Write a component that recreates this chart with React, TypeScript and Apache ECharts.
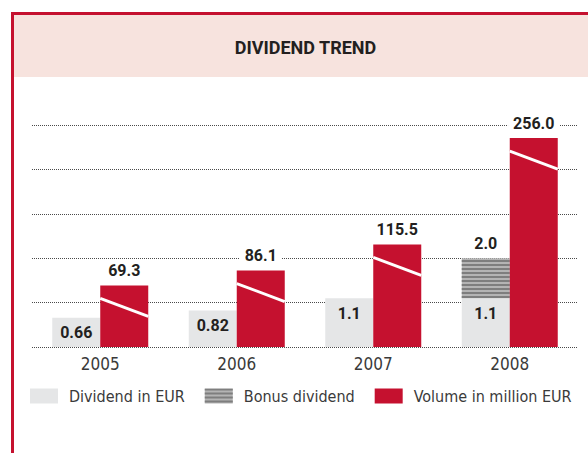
import React, { useEffect, useRef } from 'react';
import * as echarts from 'echarts';

const categories = ['2005', '2006', '2007', '2008'];
const dividendEUR = [0.66, 0.82, 1.1, 1.1];
const bonusDividendEUR: (number | null)[] = [null, null, null, 0.9];
const volumeMillionEUR = [69.3, 86.1, 115.5, 256.0];
const legendNames = ['Dividend in EUR', 'Bonus dividend', 'Volume in million EUR'];
const chartTitle = 'DIVIDEND TREND';

const RED = '#c5112f';
const GREY = '#e5e6e7';
const BAND = '#f7e3de';
const DARK = '#231f20';
const TEXT = '#3a3a3a';
const FONT = "'DejaVu Sans Condensed', 'Liberation Sans Narrow', sans-serif";
const BOLD_FONT = "Roboto, 'DejaVu Sans Condensed', sans-serif";
const BAR_W = 48;

export default function App() {
  const ref = useRef<HTMLDivElement>(null);
  useEffect(() => {
    if (!ref.current) return;
    const chart = echarts.init(ref.current, null, { renderer: 'svg' });
    const topLabel = {
      show: true,
      position: 'top',
      distance: 6,
      fontFamily: BOLD_FONT,
      fontSize: 16,
      fontWeight: 'bold',
      color: DARK,
      backgroundColor: '#ffffff',
      padding: [1, 5],
    };
    chart.setOption({
      animation: false,
      backgroundColor: '#ffffff',
      graphic: [
        { type: 'rect', shape: { x: 14, y: 15, width: 574, height: 62 }, style: { fill: BAND }, z: 0 },
        { type: 'rect', shape: { x: 11, y: 12, width: 3, height: 441 }, style: { fill: RED }, z: 1 },
        { type: 'rect', shape: { x: 11, y: 12, width: 577, height: 3 }, style: { fill: RED }, z: 1 },
        {
          type: 'text',
          x: 305.5,
          y: 47,
          style: {
            text: chartTitle,
            fill: DARK,
            font: `bold 18px ${BOLD_FONT}`,
            textAlign: 'center',
            textVerticalAlign: 'middle',
          },
          z: 2,
        },
      ],
      legend: {
        data: legendNames,
        left: 30,
        top: 388,
        padding: 0,
        icon: 'rect',
        itemWidth: 28,
        itemHeight: 15,
        itemGap: 20,
        selectedMode: false,
        textStyle: { fontFamily: FONT, fontSize: 16, color: TEXT, padding: [0, 0, 0, 6] },
      },
      grid: { left: 32, right: 10, top: 125, bottom: 106, containLabel: false },
      xAxis: {
        type: 'category',
        data: categories,
        axisLine: { show: false },
        axisTick: { show: false },
        axisLabel: { fontFamily: FONT, fontSize: 17, color: TEXT, margin: 8 },
      },
      yAxis: [
        {
          type: 'value',
          min: 0,
          max: 5,
          interval: 1,
          axisLabel: { show: false },
          axisLine: { show: false },
          axisTick: { show: false },
          splitLine: { show: true, lineStyle: { color: '#4a4a4a', width: 1, type: [1, 1] } },
        },
        {
          type: 'value',
          min: 0,
          max: 270.7,
          breaks: [{ start: 150, end: 170.7, gap: 0 }],
          breakArea: { show: false },
          axisLabel: { show: false },
          axisLine: { show: false },
          axisTick: { show: false },
          splitLine: { show: false },
        },
      ],
      series: [
        {
          name: legendNames[0],
          type: 'bar',
          stack: 'dividend',
          yAxisIndex: 0,
          barWidth: BAR_W,
          barGap: '0%',
          data: dividendEUR,
          itemStyle: { color: GREY },
          label: {
            show: true,
            position: 'insideTop',
            distance: 7,
            fontFamily: BOLD_FONT,
            fontSize: 16,
            fontWeight: 'bold',
            color: DARK,
            formatter: (p: any) => String(p.value),
          },
          z: 3,
        },
        {
          name: legendNames[1],
          type: 'bar',
          stack: 'dividend',
          yAxisIndex: 0,
          barWidth: BAR_W,
          barGap: '0%',
          data: bonusDividendEUR,
          itemStyle: {
            color: '#b4b4b4',
            decal: {
              symbol: 'rect',
              symbolSize: 1,
              dashArrayX: [1, 0],
              dashArrayY: [2, 2],
              rotation: 0,
              color: '#7e7e7e',
            },
          },
          label: {
            ...topLabel,
            backgroundColor: 'transparent',
            formatter: (p: any) => (dividendEUR[p.dataIndex] + (p.value as number)).toFixed(1),
          },
          z: 3,
        },
        {
          name: legendNames[2],
          type: 'bar',
          yAxisIndex: 1,
          barWidth: BAR_W,
          barGap: '0%',
          data: volumeMillionEUR,
          itemStyle: { color: RED },
          label: { ...topLabel, formatter: (p: any) => (p.value as number).toFixed(1) },
          z: 3,
        },
        {
          type: 'custom',
          yAxisIndex: 1,
          silent: true,
          clip: false,
          z: 5,
          encode: { x: 0, y: 1 },
          data: volumeMillionEUR.map((v, i) => [i, v]),
          renderItem: (params: any, api: any) => {
            const p = api.coord([api.value(0), api.value(1)]);
            return {
              type: 'line',
              shape: { x1: p[0], y1: p[1] + 13, x2: p[0] + BAR_W, y2: p[1] + 31 },
              style: { stroke: '#ffffff', lineWidth: 3 },
            };
          },
        },
      ],
    });
    return () => chart.dispose();
  }, []);
  return (
    <div
      ref={ref}
      style={{ position: 'absolute', left: 0, top: 0, width: 588, height: 453 }}
    />
  );
}
